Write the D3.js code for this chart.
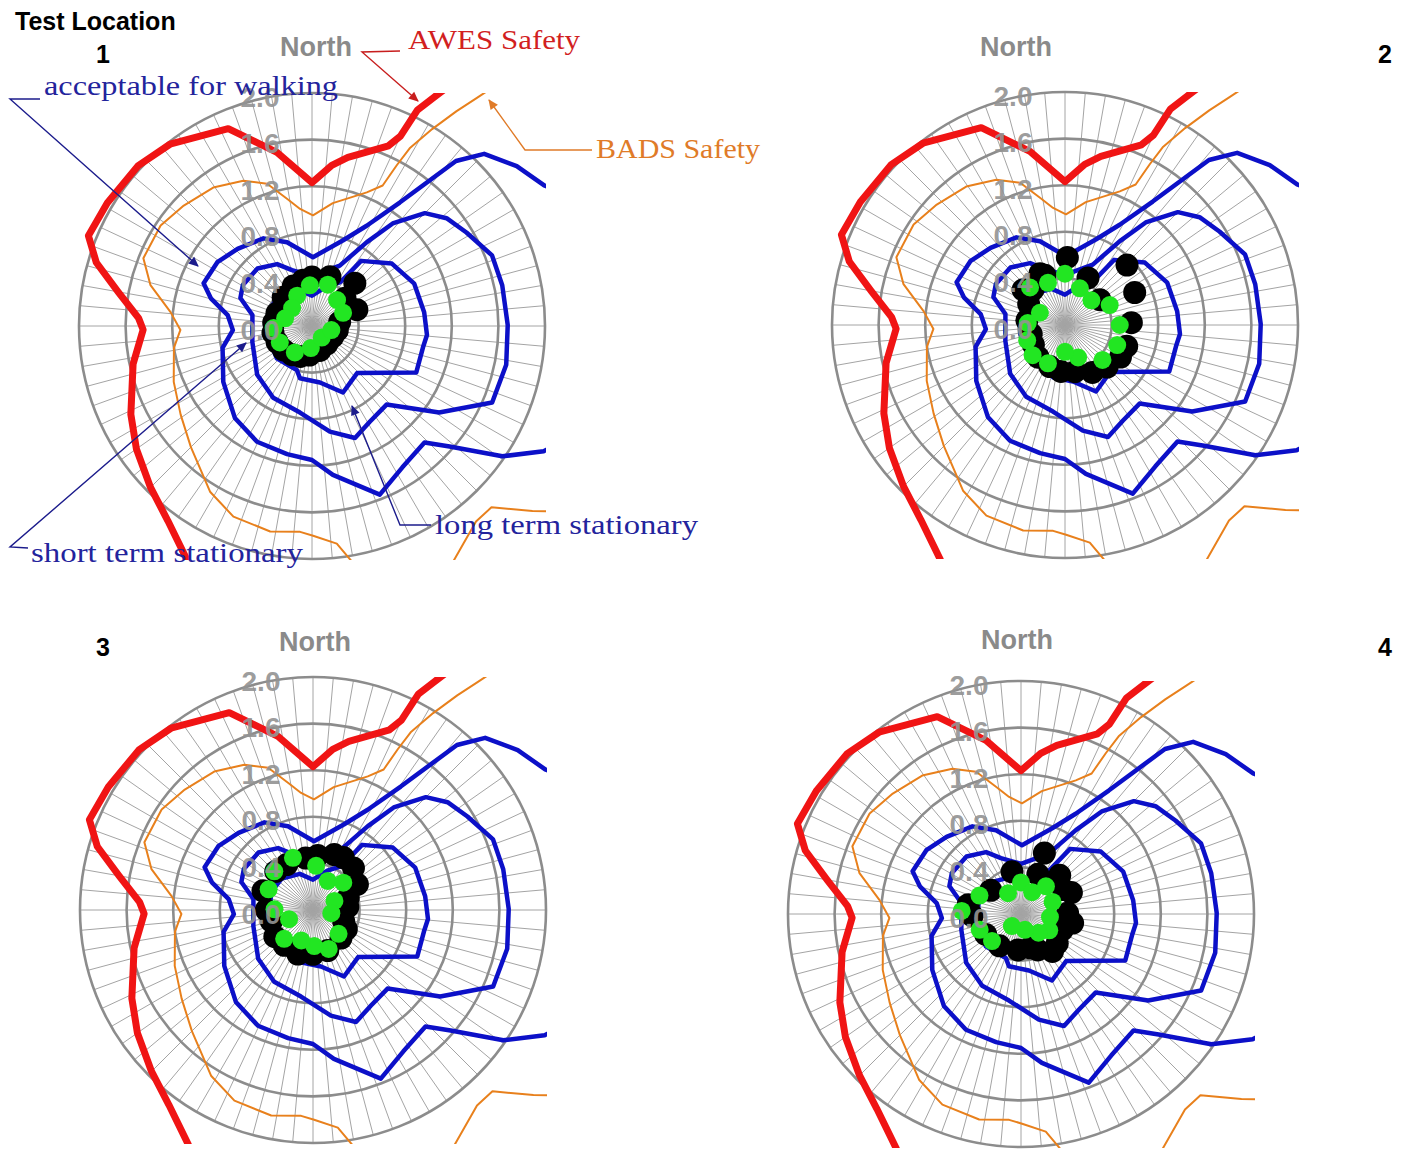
<!DOCTYPE html>
<html>
<head>
<meta charset="utf-8">
<title>Test Location</title>
<script src="https://cdn.jsdelivr.net/npm/d3@7/dist/d3.min.js"></script>
<style>
  body { margin: 0; background: #fff; }
  svg { display: block; font-family: "Liberation Sans", Arial, sans-serif; }
</style>
</head>
<body>
<script>
// criteria contours: [direction (deg clockwise from North), value]
// values above 2.0 run outside the plot square and get clipped
const awes = [[0,1.23],[7,1.39],[12,1.48],[23,1.68],[25,1.80],[26,2.06],[28,2.22],[36,3.2],[90,3.6],[150,3.6],[200,3.0],
  [208,2.28],[216.5,2.08],[225,1.96],[235,1.84],[244,1.73],[258,1.57],[268.7,1.45],[272.6,1.49],[280,1.69],[286.4,1.93],
  [292,2.07],[301,2.05],[312.6,2.03],[322,1.98],[337,1.84],[348.6,1.52]];
const bads = [[0.5,0.95],[9.6,1.07],[22.3,1.24],[26.7,1.35],[27.8,1.56],[28.8,1.74],[31.4,1.98],[33.9,2.22],[35.9,2.42],
  [40,3.0],[60,3.2],[90,3.4],[120,3.2],[130,2.47],[135.3,2.19],[140,2.19],[149.6,2.37],[160,2.7],[170.4,2.05],[173.5,1.88],
  [179.7,1.80],[183.3,1.77],[191.5,1.80],[202.4,1.77],[211.6,1.67],[225,1.47],[236,1.36],[248,1.28],[261,1.20],[268.3,1.13],
  [275.6,1.22],[284.2,1.43],[291.9,1.56],[303.6,1.56],[313.2,1.51],[324.5,1.46],[334.7,1.38],[342.5,1.28],[349,1.11],[354.2,1.01]];
const walking = [[0.8,0.59],[19.8,0.78],[28.6,0.98],[35.4,1.30],[41.1,1.88],[45,2.09],[52,2.23],[58.8,2.33],[70,2.8],[90,3.0],
  [105,2.8],[118.4,2.26],[124.4,1.98],[131.2,1.57],[136,1.39],[147.4,1.44],[158.1,1.56],[172,1.29],[180,1.15],[191,1.12],
  [205.4,1.10],[220,1.03],[237.8,0.90],[256.3,0.79],[267,0.68],[277.4,0.73],[285.3,0.90],[291.5,1.0],[304,0.98],[316,0.92],
  [331,0.86],[343.4,0.75]];
const shortTerm = [[0,0.43],[24.7,0.57],[33.2,0.86],[38.2,1.12],[45,1.37],[51.3,1.48],[58.8,1.55],[68.6,1.66],[77.9,1.67],
  [89.7,1.68],[101.3,1.70],[113,1.68],[124.2,1.32],[136.5,0.93],[148.9,0.96],[159,1.03],[170.4,0.92],[187.9,0.75],[208.4,0.70],
  [228.3,0.63],[255,0.53],[280.4,0.52],[291.3,0.66],[300.7,0.69],[316.5,0.68],[330.6,0.61],[340.3,0.51]];
const longTerm = [[0,0.26],[20,0.36],[33,0.45],[37,0.70],[52,0.87],[67.5,0.95],[83,0.97],[94.5,0.99],[101,0.97],[114,0.98],
  [136,0.56],[155,0.63],[172,0.49],[193,0.46],[199,0.40],[227.6,0.41],[258.7,0.39],[294,0.39],[315,0.38],[340,0.33]];

// measured points per test location: [direction, value]
const black1 = [[20,0.45],[45,0.52],[70,0.41],[349,0.40],[315,0.35],[290,0.32],[260,0.34],[230,0.32],[201,0.28],[162,0.22],
  [118,0.20],[82,0.24],[50,0.37],[0,0.42],[335,0.38],[275,0.33],[245,0.33],[215,0.30],[185,0.25],[140,0.20],[100,0.22]];
const green1 = [[334,0.29],[357,0.35],[21,0.38],[44,0.31],[67,0.29],[312,0.23],[286,0.24],[267,0.33],[243,0.31],[213,0.27],
  [183,0.19],[140,0.13],[102,0.17]];
const black2 = [[2,0.58],[46,0.74],[65,0.66],[88,0.57],[109,0.56],[120,0.55],[135,0.51],[150,0.47],[168,0.41],[185,0.40],[200,0.38],
  [220,0.36],[238,0.32],[255,0.30],[277,0.33],[300,0.36],[310,0.47],[318,0.41],[334,0.49],[338,0.46],[26,0.45],[54,0.37]];
const green2 = [[0,0.44],[338,0.39],[317,0.44],[22,0.34],[47,0.31],[66,0.42],[90,0.47],[111,0.48],[133,0.44],[158,0.30],
  [180,0.23],[204,0.36],[227,0.38],[248,0.35],[273,0.32],[296,0.24]];
const black3 = [[21,0.51],[44,0.50],[60,0.44],[71,0.32],[85,0.30],[110,0.28],[120,0.33],[135,0.34],[160,0.37],[180,0.38],[199,0.40],
  [219,0.39],[235,0.40],[255,0.37],[270,0.40],[291,0.46],[316,0.46],[330,0.45],[352,0.45],[5,0.47],[30,0.52]];
const green3 = [[339,0.48],[4,0.38],[27,0.28],[48,0.35],[67,0.20],[100,0.16],[133,0.30],[158,0.36],[178,0.31],[201,0.28],
  [225,0.35],[249,0.22],[271,0.33],[295,0.42],[315,0.47]];
const black4 = [[21,0.56],[67,0.47],[89,0.40],[100,0.45],[111,0.38],[129,0.40],[140,0.42],[155,0.34],[165,0.30],[185,0.31],
  [214,0.33],[240,0.35],[268,0.42],[280,0.46],[308,0.33],[348,0.37],[23,0.37],[45,0.47],[60,0.42]];
const green4 = [[294,0.39],[273,0.51],[249,0.38],[227,0.34],[328,0.21],[0,0.27],[27,0.21],[42,0.32],[69,0.29],[96,0.25],
  [120,0.28],[137,0.22],[166,0.14],[217,0.13]];

const ringTicks = [0, 0.4, 0.8, 1.2, 1.6, 2.0];
const spokeDirs = d3.range(0, 360, 5);

const charts = [
  {id: "1", cx: 312, cy: 326, nx: 316, ny: 56, lx: 103, ly: 63, black: black1, green: green1},
  {id: "2", cx: 1065, cy: 325, nx: 1016, ny: 56, lx: 1385, ly: 63, black: black2, green: green2},
  {id: "3", cx: 313, cy: 910, nx: 315, ny: 651, lx: 103, ly: 656, black: black3, green: green3},
  {id: "4", cx: 1021, cy: 914, nx: 1017, ny: 649, lx: 1385, ly: 656, black: black4, green: green4}
];

const W = 1412, H = 1151;
const svg = d3.select("body").append("svg").attr("width", W).attr("height", H);
const defs = svg.append("defs");

const r = d3.scaleLinear().domain([0, 2]).range([0, 233]);
const toRad = d => d * Math.PI / 180;
const contour = d3.lineRadial()
  .angle(d => toRad(d[0]))
  .radius(d => r(d[1]))
  .curve(d3.curveLinearClosed);
const px = d => r(d[1]) * Math.sin(toRad(d[0]));
const py = d => -r(d[1]) * Math.cos(toRad(d[0]));

svg.append("text").attr("x", 15).attr("y", 30)
  .attr("font-size", 25).attr("font-weight", "bold").attr("fill", "#000")
  .text("Test Location");

charts.forEach(c => {
  const R = r(2);
  defs.append("clipPath").attr("id", "clip" + c.id)
    .append("rect").attr("x", -R - 1).attr("y", -R).attr("width", 2 * R + 2).attr("height", 2 * R + 1);

  svg.append("text").attr("x", c.lx).attr("y", c.ly).attr("text-anchor", "middle")
    .attr("font-size", 25).attr("font-weight", "bold").text(c.id);
  svg.append("text").attr("x", c.nx).attr("y", c.ny).attr("text-anchor", "middle")
    .attr("font-size", 27).attr("font-weight", "bold").attr("fill", "#8a8a8a").text("North");

  const g = svg.append("g").attr("transform", `translate(${c.cx},${c.cy})`);

  g.selectAll("line.spoke").data(spokeDirs).join("line")
    .attr("class", "spoke")
    .attr("x1", 0).attr("y1", 0)
    .attr("x2", d => px([d, 2])).attr("y2", d => py([d, 2]))
    .attr("stroke", "#a4a4a4").attr("stroke-width", 1);

  g.selectAll("circle.ring").data(ringTicks.filter(t => t > 0)).join("circle")
    .attr("class", "ring")
    .attr("r", d => r(d))
    .attr("fill", "none").attr("stroke", "#8c8c8c").attr("stroke-width", 2.6);

  const cg = g.append("g").attr("clip-path", `url(#clip${c.id})`);
  const curves = [
    {data: bads, color: "#e8801c", width: 2},
    {data: awes, color: "#f01414", width: 7},
    {data: walking, color: "#0c10c8", width: 4.5},
    {data: shortTerm, color: "#0c10c8", width: 4.5},
    {data: longTerm, color: "#0c10c8", width: 4.5}
  ];
  cg.selectAll("path.crit").data(curves).join("path")
    .attr("class", "crit")
    .attr("d", d => contour(d.data))
    .attr("fill", "none")
    .attr("stroke", d => d.color)
    .attr("stroke-width", d => d.width)
    .attr("stroke-linejoin", "round");

  g.selectAll("circle.black").data(c.black).join("circle")
    .attr("class", "black")
    .attr("cx", px).attr("cy", py).attr("r", 11.5).attr("fill", "#000");
  g.selectAll("circle.green").data(c.green).join("circle")
    .attr("class", "green")
    .attr("cx", px).attr("cy", py).attr("r", 9).attr("fill", "#22e622");

  // radial tick labels sit on top of everything
  g.selectAll("text.tick").data(ringTicks).join("text")
    .attr("class", "tick")
    .attr("x", -52).attr("y", d => -r(d) + 4)
    .attr("text-anchor", "middle").attr("dominant-baseline", "central")
    .attr("font-size", 28).attr("font-weight", "bold")
    .attr("fill", "#939393").attr("fill-opacity", 0.92)
    .text(d => d.toFixed(1));
});

// callouts on the first chart
const markerCols = {red: "#c81e1e", orange: "#e07b28", blue: "#1c1c8c"};
Object.entries(markerCols).forEach(([k, col]) => {
  defs.append("marker").attr("id", "arrow-" + k)
    .attr("viewBox", "0 0 10 10").attr("refX", 9).attr("refY", 5)
    .attr("markerWidth", 12).attr("markerHeight", 10).attr("markerUnits", "userSpaceOnUse")
    .attr("orient", "auto")
    .append("path").attr("d", "M0,0.5L10,5L0,9.5Z").attr("fill", col);
});

const notes = [
  {text: "AWES Safety", x: 408, y: 49, w: 172, fill: "#d21f1f", mk: "red", pts: [[400, 51], [362, 52], [418, 101]]},
  {text: "BADS Safety", x: 596, y: 158, w: 164, fill: "#e07b28", mk: "orange", pts: [[592, 150], [525, 150], [489, 100]]},
  {text: "acceptable for walking", x: 44, y: 95, w: 294, fill: "#23239c", mk: "blue", pts: [[40, 99], [10, 99], [198, 266]]},
  {text: "short term stationary", x: 31, y: 562, w: 272, fill: "#23239c", mk: "blue", pts: [[28, 548], [10, 547], [246, 343]]},
  {text: "long term stationary", x: 435, y: 534, w: 263, fill: "#23239c", mk: "blue", pts: [[431, 525], [400, 525], [352, 406]]}
];
const ann = svg.append("g");
ann.selectAll("path").data(notes).join("path")
  .attr("d", d => d3.line()(d.pts))
  .attr("fill", "none").attr("stroke", d => markerCols[d.mk]).attr("stroke-width", 1.4)
  .attr("marker-end", d => `url(#arrow-${d.mk})`);
ann.selectAll("text").data(notes).join("text")
  .attr("x", d => d.x).attr("y", d => d.y)
  .attr("font-family", "'Liberation Serif', 'Times New Roman', serif")
  .attr("font-size", 28)
  .attr("textLength", d => d.w).attr("lengthAdjust", "spacingAndGlyphs")
  .attr("fill", d => d.fill)
  .text(d => d.text);
</script>
</body>
</html>
